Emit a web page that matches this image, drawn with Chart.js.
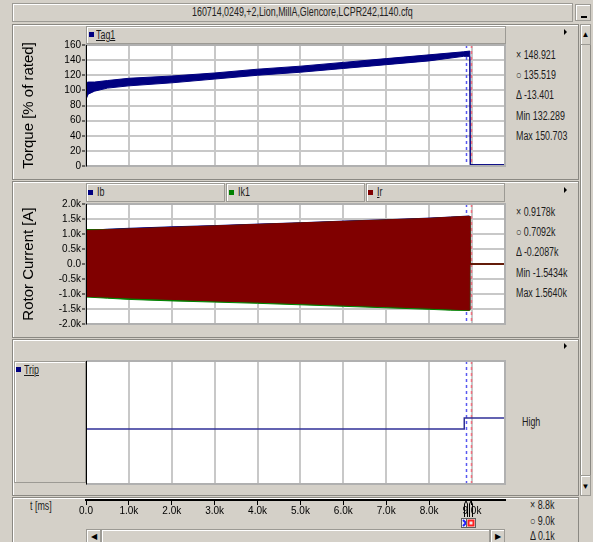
<!DOCTYPE html>
<html>
<head>
<meta charset="utf-8">
<script src="https://cdn.jsdelivr.net/npm/chart.js@4.4.1/dist/chart.umd.min.js"></script>
<style>
  body { margin:0; width:593px; height:542px; background:#d4d0c8; position:relative; overflow:hidden;
         font-family:'Liberation Sans',Arial,sans-serif; font-size:12px; color:#000; }
  .box { position:absolute; box-sizing:border-box; border:1px solid #9c9a94; box-shadow:inset 1px 1px 0 #fff; background:#d4d0c8; }
  .frame { position:absolute; box-sizing:border-box; border:1px solid #8a8882; box-shadow:inset 1px 1px 0 #fff; }
  .txt { position:absolute; white-space:nowrap; line-height:13px; color:#1c1c1c; transform:scaleX(0.74); transform-origin:0 0; }
  .sq { position:absolute; width:5px; height:5px; }
  .tri-r { position:absolute; width:0; height:0; border-top:3px solid transparent; border-bottom:3px solid transparent; border-left:3px solid #000; }
  canvas { position:absolute; }
</style>
</head>
<body>
<script>
// --- data ---
const timeTicks  = [0, 1000, 2000, 3000, 4000, 5000, 6000, 7000, 8000, 9000];
const timeMax    = 9770;
const cursorX    = 8850;   // X cursor, ms
const cursorO    = 8980;   // O cursor, ms

const torqueTicks = [0, 20, 40, 60, 80, 100, 120, 140, 160];
const torqueT  = [0,   50,  200, 500, 1000, 2000, 3000, 4000, 5000, 6000, 7000, 8000, 8800, 8950, 8960, 9770];
const torqueHi = [110, 111, 111, 113, 116,  119,  123,  128,  132,  137,  142,  147,  151,  152,  1.8,  1.8];
const torqueLo = [88,  95,  99,  103, 106,  110,  115,  120,  124,  129,  134,  139,  145,  145,  1.0,  1.0];

const currentTicks = [-2000, -1500, -1000, -500, 0, 500, 1000, 1500, 2000];
const curT  = [0,     500,   1000,  2000,  3000,  4000,  5000,  6000,  7000,  8000,  8500,  8940,  8950, 9770];
const irHi  = [1120,  1140,  1170,  1220,  1270,  1320,  1370,  1420,  1470,  1520,  1560,  1590,  0,    0];
const irLo  = [-1080, -1100, -1130, -1180, -1230, -1270, -1320, -1370, -1420, -1470, -1500, -1530, 0,    0];
const ik1Hi = [1150,  1150,  1160,  1210,  1260,  1310,  1360,  1410,  1460,  1510,  1550,  1580,  0,    0];
const ik1Lo = [-1100, -1140, -1180, -1230, -1270, -1310, -1360, -1410, -1460, -1510, -1540, -1550, 0,    0];
const ibHi  = [1110,  1160,  1190,  1240,  1280,  1330,  1375,  1430,  1475,  1530,  1565,  1600,  0,    0];
const ibLo  = [-1070, -1090, -1120, -1170, -1220, -1260, -1310, -1360, -1410, -1460, -1490, -1520, 0,    0];

const tripT = [0, 8820, 8820, 9770];
const tripV = [0, 0,    1,    1];
</script>

<!-- title bar -->
<div class="box" style="left:12px;top:3px;width:561px;height:19px;"></div>
<div class="txt" style="left:192px;top:6px;color:#222">160714,0249,+2,Lion,MillA,Glencore,LCPR242,1140.cfq</div>
<div class="box" style="left:575px;top:4px;width:16px;height:17px;"><div style="position:absolute;left:5px;top:11px;width:6px;height:2px;background:#000"></div></div>

<!-- panel frames -->
<div class="frame" style="left:12px;top:24px;width:567px;height:156px"></div>
<div class="frame" style="left:12px;top:181px;width:567px;height:157px"></div>
<div class="frame" style="left:12px;top:339px;width:567px;height:157px"></div>
<div class="frame" style="left:12px;top:497px;width:567px;height:50px"></div>

<!-- vertical scrollbar -->
<div class="frame" style="left:580px;top:24px;width:11px;height:472px"></div>
<div class="box" style="left:580px;top:24px;width:11px;height:21px;text-align:center;font-size:8px;line-height:20px">▲</div>
<div class="box" style="left:580px;top:475px;width:11px;height:21px;text-align:center;font-size:8px;line-height:22px">▼</div>

<!-- legend bars -->
<div class="box" style="left:86px;top:26px;width:420px;height:18px"></div>
<div class="sq" style="left:89px;top:32px;background:#000080"></div>
<div class="txt" style="left:96px;top:29px;text-decoration:underline">Tag1</div>
<div class="tri-r" style="left:564px;top:29px"></div>

<div class="box" style="left:86px;top:183px;width:139px;height:19px"></div>
<div class="box" style="left:226px;top:183px;width:139px;height:19px"></div>
<div class="box" style="left:366px;top:183px;width:139px;height:19px"></div>
<div class="sq" style="left:88px;top:190px;background:#000080"></div>
<div class="txt" style="left:97px;top:186px">Ib</div>
<div class="sq" style="left:229px;top:190px;background:#008000"></div>
<div class="txt" style="left:238px;top:186px">Ik1</div>
<div class="sq" style="left:368px;top:190px;background:#800000"></div>
<div class="txt" style="left:377px;top:186px"><span style="text-decoration:underline">I</span>r</div>
<div class="tri-r" style="left:564px;top:187px"></div>

<div class="box" style="left:14px;top:361px;width:72px;height:122px"></div>
<div class="sq" style="left:16px;top:367px;background:#000080"></div>
<div class="txt" style="left:24px;top:364px;text-decoration:underline">Trip</div>
<div class="tri-r" style="left:564px;top:343px"></div>

<!-- cursor read-outs -->
<div class="txt" style="left:516px;top:49px">× 148.921</div>
<div class="txt" style="left:516px;top:69px">○ 135.519</div>
<div class="txt" style="left:516px;top:89px">Δ -13.401</div>
<div class="txt" style="left:516px;top:110px">Min 132.289</div>
<div class="txt" style="left:516px;top:130px">Max 150.703</div>

<div class="txt" style="left:516px;top:206px">× 0.9178k</div>
<div class="txt" style="left:516px;top:226px">○ 0.7092k</div>
<div class="txt" style="left:516px;top:246px">Δ -0.2087k</div>
<div class="txt" style="left:516px;top:267px">Min -1.5434k</div>
<div class="txt" style="left:516px;top:287px">Max 1.5640k</div>

<div class="txt" style="left:522px;top:416px">High</div>

<div class="txt" style="left:30px;top:500px">t [ms]</div>
<div class="txt" style="left:530px;top:499px">× 8.8k</div>
<div class="txt" style="left:530px;top:515px">○ 9.0k</div>
<div class="txt" style="left:530px;top:530px">Δ 0.1k</div>

<!-- horizontal scrollbar -->
<div class="box" style="left:86px;top:529px;width:15px;height:16px;font-size:8px;line-height:14px;text-align:center">◀</div>
<div class="box" style="left:101px;top:529px;width:389px;height:16px"></div>
<div class="box" style="left:490px;top:529px;width:15px;height:16px;font-size:8px;line-height:14px;text-align:center">▶</div>

<canvas id="cTorque"  width="494" height="136" style="left:14px;top:37px"></canvas>
<canvas id="cCurrent" width="494" height="136" style="left:14px;top:195px"></canvas>
<canvas id="cTrip"    width="422" height="131" style="left:86px;top:357px"></canvas>
<canvas id="cTime"    width="452" height="42"  style="left:56px;top:490px"></canvas>

<script>
Chart.defaults.font.family = "'Liberation Sans',sans-serif";
Chart.defaults.font.size = 10;
Chart.defaults.color = '#000';

const GRID = '#c8c8c8';

function pts(xs, ys) { return xs.map((x, i) => ({ x, y: ys[i] })); }

// two lines with the area between them filled (envelope of a dense trace)
function band(t, hi, lo, color, idx) {
  return [
    { data: pts(t, hi), borderColor: color, backgroundColor: color, borderWidth: 1, pointRadius: 0, fill: idx + 1 },
    { data: pts(t, lo), borderColor: color, backgroundColor: color, borderWidth: 1, pointRadius: 0, fill: false }
  ];
}

function timeScale() {
  return {
    type: 'linear', min: 0, max: timeMax,
    afterBuildTicks: s => { s.ticks = timeTicks.map(v => ({ value: v })); },
    afterFit: s => { s.height = 0; },
    ticks: { display: false },
    grid: { color: GRID, lineWidth: 2, drawTicks: false },
    border: { display: false }
  };
}

function valueScale(min, max, ticks, title, fmt) {
  return {
    min, max,
    afterBuildTicks: s => { s.ticks = ticks.map(v => ({ value: v })); },
    afterFit: s => { s.width = 72; },
    ticks: { padding: 1, color: '#000', autoSkip: false, callback: fmt },
    grid: { color: GRID, lineWidth: 2, tickLength: 4, tickColor: '#000', tickWidth: 1 },
    border: { display: false },
    title: { display: true, text: title, color: '#000', font: { size: 15 }, padding: { top: 6, bottom: 0 } }
  };
}

// white plot face, cursor lines, frame
const plotDeco = {
  id: 'plotDeco',
  beforeDraw(c) {
    const a = c.chartArea, ctx = c.ctx;
    ctx.save();
    ctx.fillStyle = '#fff';
    ctx.fillRect(a.left, a.top, a.right - a.left, a.bottom - a.top);
    ctx.restore();
  },
  beforeDatasetsDraw(c) {
    const a = c.chartArea, ctx = c.ctx, x = c.scales.x;
    ctx.save();
    ctx.setLineDash([3, 3]);
    ctx.lineWidth = 1.5;
    [[cursorX, '#5858f0'], [cursorO, '#f07080']].forEach(([v, col]) => {
      const px = Math.round(x.getPixelForValue(v)) + 0.5;
      ctx.strokeStyle = col;
      ctx.beginPath(); ctx.moveTo(px, a.top); ctx.lineTo(px, a.bottom); ctx.stroke();
    });
    ctx.restore();
  },
  afterDraw(c) {
    const a = c.chartArea, ctx = c.ctx;
    ctx.save();
    ctx.strokeStyle = '#b0b0b0'; ctx.lineWidth = 2;
    ctx.strokeRect(a.left, a.top, a.right - a.left, a.bottom - a.top);
    ctx.strokeStyle = '#000'; ctx.lineWidth = 1;
    ctx.beginPath(); ctx.moveTo(a.left + 0.5, a.top); ctx.lineTo(a.left + 0.5, a.bottom + 0.5); ctx.stroke();
    ctx.restore();
  }
};

const common = {
  responsive: false, animation: false, devicePixelRatio: 1,
  plugins: { legend: { display: false }, tooltip: { enabled: false } },
  elements: { line: { tension: 0 } }
};

const kFmt = v => v === 0 ? '0.0' : (v / 1000).toFixed(1) + 'k';

// Torque
new Chart(document.getElementById('cTorque'), {
  type: 'line',
  data: { datasets: band(torqueT, torqueHi, torqueLo, '#000080', 0) },
  options: Object.assign({}, common, {
    layout: { padding: { top: 8, right: 3, bottom: 5, left: 0 } },
    scales: { x: timeScale(), y: valueScale(0, 160, torqueTicks, 'Torque [% of rated]') }
  }),
  plugins: [plotDeco]
});

// Rotor current
new Chart(document.getElementById('cCurrent'), {
  type: 'line',
  data: { datasets: [].concat(
    band(curT, irHi, irLo, '#800000', 0),
    band(curT, ik1Hi, ik1Lo, '#008000', 2),
    band(curT, ibHi, ibLo, '#000080', 4)
  ) },
  options: Object.assign({}, common, {
    layout: { padding: { top: 9, right: 3, bottom: 5, left: 0 } },
    scales: { x: timeScale(), y: valueScale(-2000, 2000, currentTicks, 'Rotor Current [A]', kFmt) }
  }),
  plugins: [plotDeco]
});

// Trip (digital)
new Chart(document.getElementById('cTrip'), {
  type: 'line',
  data: { datasets: [{ data: pts(tripT, tripV), borderColor: '#303098', borderWidth: 1.5, pointRadius: 0, fill: false }] },
  options: Object.assign({}, common, {
    layout: { padding: { top: 4, right: 3, bottom: 4, left: 0 } },
    scales: { x: timeScale(), y: { display: false, min: -5, max: 6.2 } }
  }),
  plugins: [plotDeco]
});

// time axis with cursor pins
const pins = {
  id: 'pins',
  afterDraw(c) {
    const ctx = c.ctx, x = c.scales.x, top = c.chartArea.bottom;
    ctx.save();
    [[cursorX, 'x'], [cursorO, 'o']].forEach(([v, kind]) => {
      const px = Math.round(x.getPixelForValue(v));
      ctx.strokeStyle = '#000'; ctx.lineWidth = 1;
      ctx.beginPath();
      ctx.moveTo(px - 1.5, top + 17); ctx.lineTo(px - 1.5, top + 4);
      ctx.lineTo(px, top + 1); ctx.lineTo(px + 1.5, top + 4); ctx.lineTo(px + 1.5, top + 17);
      ctx.stroke();
      ctx.fillStyle = '#eeeeee'; ctx.strokeStyle = '#606060';
      ctx.fillRect(px - 5, top + 18, 10, 10);
      ctx.strokeRect(px - 4.5, top + 18.5, 9, 9);
      ctx.lineWidth = 2;
      if (kind === 'x') {
        ctx.strokeStyle = '#2020ff';
        ctx.beginPath();
        ctx.moveTo(px - 3, top + 20); ctx.lineTo(px + 3, top + 26);
        ctx.moveTo(px + 3, top + 20); ctx.lineTo(px - 3, top + 26);
        ctx.stroke();
      } else {
        ctx.strokeStyle = '#ff2020';
        ctx.strokeRect(px - 2.5, top + 20.5, 5, 5);
      }
    });
    ctx.restore();
  }
};

new Chart(document.getElementById('cTime'), {
  type: 'line',
  data: { datasets: [] },
  options: Object.assign({}, common, {
    layout: { padding: { top: 9, right: 3, bottom: 0, left: 30 } },
    scales: {
      x: {
        type: 'linear', min: 0, max: timeMax,
        afterBuildTicks: s => { s.ticks = timeTicks.map(v => ({ value: v })); },
        afterFit: s => { s.height = 32; },
        ticks: { autoSkip: false, maxRotation: 0, padding: 0, color: '#000', callback: kFmt },
        grid: { drawOnChartArea: false, tickLength: 5, tickColor: '#000', tickWidth: 1 },
        border: { display: true, color: '#000', width: 2 }
      },
      y: { display: false, min: 0, max: 1 }
    }
  }),
  plugins: [pins]
});
</script>
</body>
</html>
